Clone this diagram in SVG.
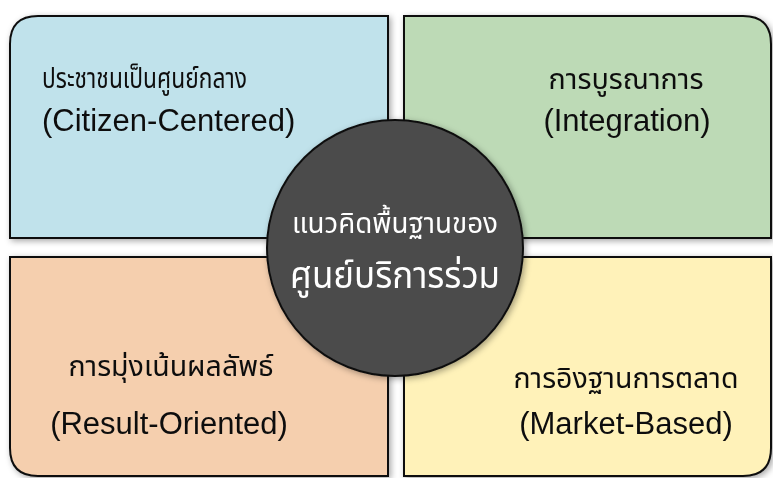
<svg xmlns="http://www.w3.org/2000/svg" width="773" height="478" viewBox="0 0 773 478">
<defs>
<filter id="sh" x="-10%" y="-10%" width="120%" height="120%">
<feDropShadow dx="2" dy="2" stdDeviation="3" flood-color="#000" flood-opacity="0.35"/>
</filter>
<style>
.box{stroke:#111;stroke-width:2}
.t{font-family:"Noto Sans Thai","Noto Sans","Liberation Sans",sans-serif;font-size:29px;fill:#111}
.e{font-family:"Liberation Sans",Arial,sans-serif;font-size:31px;fill:#111}
.c{font-family:"Noto Sans Thai","Noto Sans","Liberation Sans",sans-serif;fill:#fff;text-anchor:middle}
.m{text-anchor:middle}
</style>
</defs>
<rect width="773" height="478" fill="#fff"/>
<g id="citizen" filter="url(#sh)">
<path class="box" d="M10,238 V44 Q10,16 38,16 H388 V238 Z" fill="#c0e2eb"/>
<text class="t" x="42" y="88" textLength="205" lengthAdjust="spacingAndGlyphs">ประชาชนเป็นศูนย์กลาง</text>
<text class="e" x="42" y="131">(Citizen-Centered)</text>
</g>
<g id="integration" filter="url(#sh)">
<path class="box" d="M404,16 H743 Q771,16 771,44 V238 H404 Z" fill="#bddab6"/>
<text class="t m" x="626" y="89" textLength="155" lengthAdjust="spacingAndGlyphs">การบูรณาการ</text>
<text class="e m" x="627" y="131">(Integration)</text>
</g>
<g id="result" filter="url(#sh)">
<path class="box" d="M10,257 H388 V476 H38 Q10,476 10,448 Z" fill="#f5cfae"/>
<text class="t m" x="171" y="376" textLength="205" lengthAdjust="spacingAndGlyphs">การมุ่งเน้นผลลัพธ์</text>
<text class="e m" x="169" y="434">(Result-Oriented)</text>
</g>
<g id="market" filter="url(#sh)">
<path class="box" d="M404,257 H771 V448 Q771,476 743,476 H404 Z" fill="#fff2b9"/>
<text class="t m" x="626" y="388" textLength="225" lengthAdjust="spacingAndGlyphs">การอิงฐานการตลาด</text>
<text class="e m" x="626" y="434">(Market-Based)</text>
</g>
<g id="connectors"></g>
<g id="center" filter="url(#sh)">
<circle cx="395" cy="248" r="128" fill="#4b4b4b" stroke="#111" stroke-width="2"/>
<text class="c" x="395" y="233" font-size="28" textLength="206" lengthAdjust="spacingAndGlyphs">แนวคิดพื้นฐานของ</text>
<text class="c" x="395" y="288" font-size="38" textLength="210" lengthAdjust="spacingAndGlyphs">ศูนย์บริการร่วม</text>
</g>
</svg>
